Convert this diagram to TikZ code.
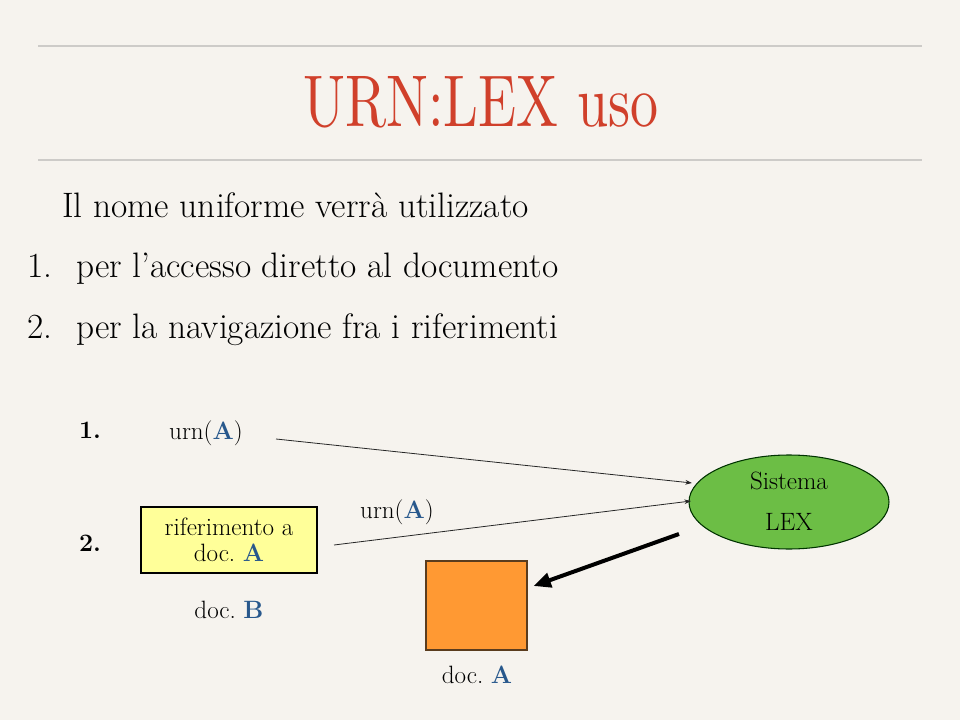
\documentclass[tikz,border=0pt]{standalone}
\usepackage{graphicx}
\usetikzlibrary{arrows.meta,shapes.geometric}
\definecolor{bgc}{RGB}{246,243,238}
\definecolor{rulec}{RGB}{205,203,200}
\definecolor{titlec}{RGB}{208,64,43}
\definecolor{blueA}{RGB}{40,88,140}
\definecolor{yellowc}{RGB}{255,255,153}
\definecolor{greenc}{RGB}{108,190,69}
\definecolor{orangec}{RGB}{255,153,51}
\definecolor{brownc}{RGB}{90,60,30}
\frenchspacing
\tikzset{
  body/.style={anchor=base west,inner sep=0pt,font=\fontsize{26.5}{30}\selectfont},
  diag/.style={inner sep=0pt,font=\fontsize{18.8}{19.5}\selectfont},
  diagb/.style={inner sep=0pt,font=\fontsize{18.8}{19.5}\selectfont\bfseries},
  thinarrow/.style={draw=black!85,line width=0.6pt,-{Stealth[length=5pt,width=3.5pt]}},
  thickarrow/.style={draw=black,line width=3pt,-{Triangle[length=13pt,width=11pt]}},
}
\newcommand{\bA}{\textcolor{blueA}{\textbf{A}}}
\newcommand{\bB}{\textcolor{blueA}{\textbf{B}}}
\begin{document}
\begin{tikzpicture}[x=0.75pt,y=-0.75pt]
\fill[bgc] (0,0) rectangle (960,720);
\useasboundingbox (0,0) rectangle (960,720);
% rules
\coordinate (r1a) at (38,46); \coordinate (r1b) at (922,46);
\coordinate (r2a) at (38,160); \coordinate (r2b) at (922,160);
\draw[rulec,line width=0.8pt] (r1a) -- (r1b);
\draw[rulec,line width=0.8pt] (r2a) -- (r2b);
% title
\node[anchor=south west,inner sep=0pt,text=titlec] (title) at (303,128)
  {\resizebox{266.25pt}{37.5pt}{URN:LEX uso}};
% body text
\node[body] (l0) at (62,218) {Il nome uniforme verrà utilizzato};
\node[body] (n1) at (27,278) {1.};
\node[body] (l1) at (76,278) {per l’accesso diretto al documento};
\node[body] (n2) at (27,338) {2.};
\node[body] (l2) at (76,338) {per la navigazione fra i riferimenti};
% diagram
\node[diagb] (d1) at (90,430) {1.};
\node[diag] (u1) at (206,433) {urn(\bA)};
\node[diagb] (d2) at (90,543) {2.};
\node[diag,draw=black,line width=0.8pt,fill=yellowc,minimum width=132pt,minimum height=49.5pt,align=center] (ref) at (229,540) {riferimento a\\[0pt]doc. \bA};
\node[diag] (u2) at (397,512) {urn(\bA)};
\node[draw=black!80!green,line width=0.8pt,fill=greenc,ellipse,minimum width=150pt,minimum height=70.5pt,inner sep=0pt] (sys) at (789,502) {};
\node[diag] (s1) at (789,481) {Sistema};
\node[diag] (s2) at (789,522) {LEX};
\node[draw=brownc,line width=0.8pt,fill=orangec,minimum width=75.75pt,minimum height=66.75pt,inner sep=0pt] (docA) at (476.5,605.5) {};
\node[diag] (la) at (477,675) {doc. \bA};
\node[diag] (lb) at (229,610) {doc. \bB};
% connectors
\coordinate (c1s) at (276,439);
\coordinate (c1e) at (692,483);
\coordinate (c2s) at (334,545);
\coordinate (c2e) at (691,501);
\coordinate (c3s) at (679,534);
\draw[thinarrow] (c1s) -- (c1e);
\draw[thinarrow] (c2s) -- (c2e);
\draw[thickarrow] (c3s) -- ([xshift=4.5pt]docA.east |- 0,586);
\end{tikzpicture}
\end{document}
